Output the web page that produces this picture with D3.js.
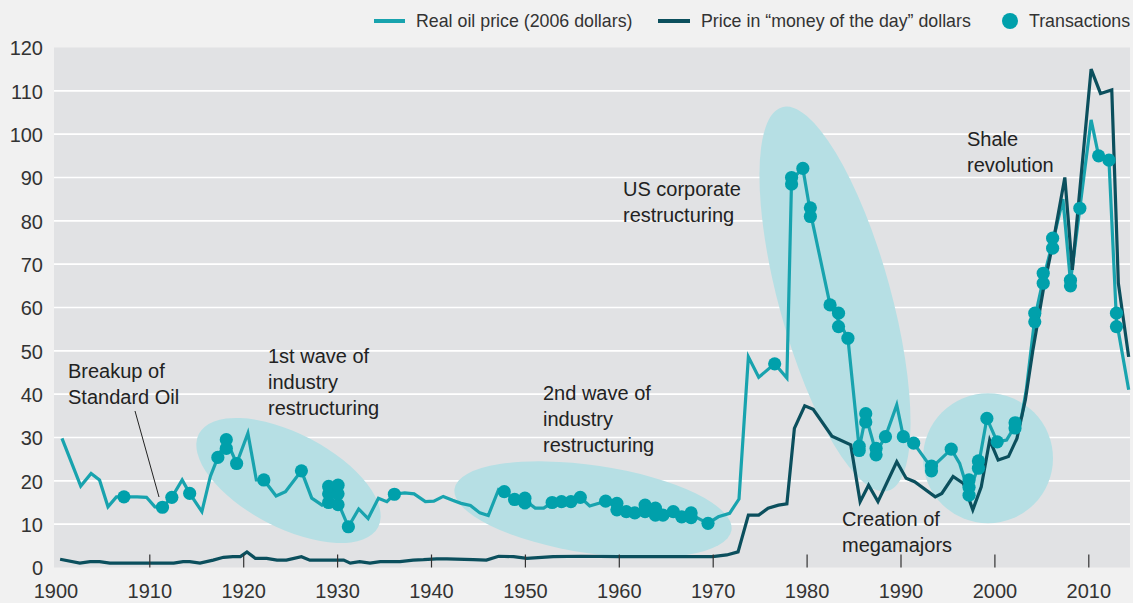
<!DOCTYPE html>
<html>
<head>
<meta charset="utf-8">
<script src="https://cdn.jsdelivr.net/npm/d3@7"></script>
<style>
  html, body { margin: 0; padding: 0; background: #f1f1f1; }
  svg { display: block; font-family: "Liberation Sans", Arial, sans-serif; }
</style>
</head>
<body>
<svg id="chart" width="1133" height="603"></svg>
<script>
// ---------------- DATA ----------------
const xTickYears = [1900, 1910, 1920, 1930, 1940, 1950, 1960, 1970, 1980, 1990, 2000, 2010];
const yTickValues = [0, 10, 20, 30, 40, 50, 60, 70, 80, 90, 100, 110, 120];

// Real oil price (2006 dollars)
const realYears = [1900.7,1902.7,1903.8,1904.7,1905.6,1906.5,1907.3,1908.7,1909.7,1910.6,1911.4,1912.4,1913.5,1914.3,1915.6,1916.5,1917.3,1918.2,1919.3,1920.5,1921.4,1922.2,1923.5,1924.5,1926.2,1927.3,1928.4,1929.1,1930.1,1931.2,1932.3,1933.3,1934.4,1935.3,1936.1,1937.2,1938.2,1939.4,1940.3,1941.3,1942.3,1943.2,1944.2,1945.2,1946.1,1947.2,1947.8,1948.9,1950.0,1951.1,1952.0,1952.9,1953.9,1954.9,1955.9,1956.9,1958.6,1959.8,1960.8,1961.7,1962.8,1963.9,1964.7,1965.8,1966.7,1967.7,1969.5,1970.6,1971.8,1972.8,1973.8,1974.9,1976.6,1977.9,1978.4,1979.6,1980.4,1982.5,1983.4,1984.4,1985.6,1986.3,1987.4,1988.4,1989.6,1990.3,1991.4,1993.3,1995.4,1996.3,1997.3,1998.3,1999.2,2000.3,2001.3,2002.2,2002.9,2003.4,2004.3,2005.2,2006.2,2007.3,2008.1,2009.1,2010.3,2011.1,2012.2,2013.0,2014.3];
const realValues = [29.8,18.8,21.7,20.2,14.0,16.3,16.3,16.3,16.2,14.0,13.9,16.2,20.2,17.1,12.9,21.0,25.4,29.5,24.0,31.0,20.2,20.2,16.5,17.5,22.3,16.0,14.4,15.0,15.0,9.4,13.5,11.3,16.0,15.2,16.9,17.2,17.0,15.2,15.3,16.4,15.5,14.8,14.3,12.6,12.0,18.0,17.5,15.7,15.5,13.7,13.7,15.0,15.2,15.2,16.2,14.2,15.3,14.0,12.9,12.6,13.8,12.8,12.3,12.9,11.7,12.2,10.2,11.7,12.5,15.8,48.6,43.9,47.0,43.7,89.5,92.1,82.0,60.6,57.0,52.9,27.5,35.0,26.5,30.2,37.5,30.2,28.7,23.0,27.3,24.0,17.0,23.5,34.4,29.0,29.4,32.7,34.8,41.0,57.5,66.5,75.0,85.0,66.0,82.9,103.3,95.0,94.0,57.0,41.0];

// Price in "money of the day" dollars
const nominalYears = [1900.5,1902.6,1903.7,1904.7,1905.8,1912.6,1913.6,1914.3,1915.4,1916.8,1917.9,1918.9,1919.7,1920.4,1921.3,1922.5,1923.6,1924.6,1926.2,1927.1,1928.5,1929.6,1930.7,1931.4,1932.4,1933.5,1934.6,1936.7,1938.1,1939.2,1940.6,1941.7,1944.5,1945.9,1947.2,1948.8,1950.2,1953.0,1956.0,1960.0,1965.0,1970.0,1971.5,1972.7,1973.8,1974.9,1975.9,1977.0,1977.9,1978.7,1979.8,1980.7,1982.7,1984.7,1985.7,1986.6,1987.6,1989.6,1990.6,1991.5,1993.7,1994.4,1995.6,1996.7,1997.7,1998.6,1999.5,2000.4,2001.5,2002.4,2003.3,2004.1,2005.2,2006.3,2007.5,2008.3,2010.3,2011.3,2012.5,2013.2,2014.3];
const nominalValues = [1.9,1.0,1.35,1.35,1.0,1.0,1.35,1.35,1.0,1.7,2.35,2.5,2.5,3.6,2.1,2.1,1.7,1.7,2.5,1.7,1.7,1.7,1.7,1.0,1.35,1.0,1.35,1.35,1.7,1.8,2.0,2.0,1.8,1.7,2.6,2.5,2.1,2.5,2.6,2.5,2.5,2.5,2.9,3.6,12.1,12.1,13.7,14.4,14.7,32.1,37.3,36.5,30.3,28.3,15.2,19.0,15.2,24.4,20.6,19.8,16.3,17.1,21.0,19.4,13.3,18.6,29.4,24.8,25.6,29.8,38.7,50.2,64.0,75.6,90.0,68.7,115.0,109.4,110.2,65.6,48.6];

// Transactions
const txYears = [1907.3,1911.4,1912.4,1914.3,1917.3,1918.2,1918.2,1919.3,1922.2,1926.2,1929.1,1929.1,1929.1,1930.1,1930.1,1930.1,1931.2,1936.1,1947.8,1948.9,1950.0,1950.0,1952.9,1953.9,1954.9,1955.9,1958.6,1959.8,1959.8,1960.8,1961.7,1962.8,1962.8,1963.9,1963.9,1964.7,1965.8,1966.7,1967.7,1967.7,1969.5,1976.6,1978.4,1978.4,1979.6,1980.4,1980.4,1982.5,1983.4,1983.4,1984.4,1985.6,1985.6,1986.3,1986.3,1987.4,1987.4,1988.4,1990.3,1991.4,1993.3,1993.3,1995.4,1997.3,1997.3,1997.3,1998.3,1998.3,1999.2,2000.3,2002.2,2002.2,2004.3,2004.3,2005.2,2005.2,2006.2,2006.2,2008.1,2008.1,2009.1,2011.1,2012.2,2013.0,2013.0];
const txValues = [16.3,13.9,16.2,17.1,25.4,27.5,29.5,24.0,20.2,22.3,15.0,17.0,18.7,14.5,17.0,19.0,9.4,16.9,17.5,15.7,16.0,14.9,15.0,15.2,15.2,16.2,15.3,14.8,13.3,12.9,12.6,14.4,12.9,13.7,12.1,12.1,12.9,11.7,12.6,11.5,10.2,47.0,90.0,88.5,92.1,83.0,81.0,60.6,58.7,55.6,52.9,28.0,27.0,35.5,33.6,27.5,26.0,30.2,30.2,28.7,23.4,22.3,27.3,20.2,18.5,16.7,24.6,22.9,34.4,29.0,32.2,33.4,58.7,56.7,67.9,65.6,76.0,73.7,66.3,65.0,82.9,95.0,94.0,58.7,55.6];

// Annotation texts
const annotations = [
  { lines: ["Breakup of", "Standard Oil"], x: 68, y: 378 },
  { lines: ["1st wave of", "industry", "restructuring"], x: 268, y: 363 },
  { lines: ["2nd wave of", "industry", "restructuring"], x: 543, y: 400 },
  { lines: ["US corporate", "restructuring"], x: 623, y: 196 },
  { lines: ["Shale", "revolution"], x: 967, y: 146 },
  { lines: ["Creation of", "megamajors"], x: 842, y: 526 }
];
const legendLabels = ["Real oil price (2006 dollars)", "Price in \u201cmoney of the day\u201d dollars", "Transactions"];

// ---------------- STYLE ----------------
const C_REAL = "#18a3ae", C_NOM = "#0b4f5d", C_TX = "#00a0ab", C_ELL = "#b6dfe4";
const plot = { left: 54, right: 1130, top: 47.5, bottom: 567.5 };

const svg = d3.select("#chart");
svg.append("rect").attr("width", 1133).attr("height", 603).attr("fill", "#f1f1f1");

const x = d3.scaleLinear().domain([1910, 2010]).range([149.3, 1088.3]);
const y = d3.scaleLinear().domain([0, 120]).range([plot.bottom, plot.top]);

svg.append("rect")
  .attr("x", plot.left).attr("y", plot.top)
  .attr("width", plot.right - plot.left).attr("height", plot.bottom - plot.top)
  .attr("fill", "#e1e2e4");

// gridlines
svg.append("g").selectAll("line")
  .data(yTickValues.filter(v => v > 0 && v < 120))
  .join("line")
  .attr("x1", plot.left).attr("x2", plot.right)
  .attr("y1", d => y(d)).attr("y2", d => y(d))
  .attr("stroke", "#ffffff").attr("stroke-width", 1.6);

// y labels
const yAxis = d3.axisLeft(y).tickValues(yTickValues).tickSize(0).tickPadding(0);
const gy = svg.append("g").attr("transform", "translate(43,0)").call(yAxis);
gy.select(".domain").remove();
gy.selectAll("text").attr("font-size", 20).attr("fill", "#333").attr("font-family", "Liberation Sans, Arial, sans-serif").attr("dy", "0.36em");

// highlight ellipses
const ellipses = [
  { cx: 288.5, cy: 480.5, rx: 101, ry: 47, rot: 27.5 },
  { cx: 593, cy: 509.5, rx: 140, ry: 44, rot: 8.5 },
  { cx: 835, cy: 299, rx: 199, ry: 56, rot: 74.6 },
  { cx: 988, cy: 458.3, rx: 65, ry: 65, rot: 0 }
];
svg.append("g").selectAll("ellipse").data(ellipses).join("ellipse")
  .attr("cx", 0).attr("cy", 0).attr("rx", d => d.rx).attr("ry", d => d.ry)
  .attr("transform", d => `translate(${d.cx},${d.cy}) rotate(${d.rot})`)
  .attr("fill", C_ELL);

// lines
const realData = realYears.map((t, i) => [t, realValues[i]]);
const nomData = nominalYears.map((t, i) => [t, nominalValues[i]]);
const line = d3.line().x(d => x(d[0])).y(d => y(d[1]));

svg.append("path").datum(realData).attr("d", line)
  .attr("fill", "none").attr("stroke", C_REAL).attr("stroke-width", 3.2).attr("stroke-linejoin", "miter");
svg.append("path").datum(nomData).attr("d", line)
  .attr("fill", "none").attr("stroke", C_NOM).attr("stroke-width", 3.2).attr("stroke-linejoin", "miter");

// x axis ticks (inside plot, bottom)
const xAxis = d3.axisTop(x).tickValues(xTickYears.filter(t => t > 1900)).tickSize(13).tickFormat("");
const gx = svg.append("g").attr("transform", `translate(0,${plot.bottom})`).call(xAxis);
gx.select(".domain").remove();
gx.selectAll("line").attr("stroke", "#333").attr("stroke-width", 1.2);

const xLab = d3.axisBottom(x).tickValues(xTickYears).tickSize(0).tickPadding(0).tickFormat(d3.format("d"));
const gxl = svg.append("g").attr("transform", "translate(0,580)").call(xLab);
gxl.select(".domain").remove();
gxl.selectAll("text").attr("font-size", 20).attr("fill", "#333").attr("font-family", "Liberation Sans, Arial, sans-serif").attr("dy", "0.9em");

// transactions
const txData = txYears.map((t, i) => [t, txValues[i]]);
svg.append("g").selectAll("circle").data(txData).join("circle")
  .attr("cx", d => x(d[0])).attr("cy", d => y(d[1])).attr("r", 6.6)
  .attr("fill", C_TX);

// annotations
const ann = svg.append("g").attr("font-size", 20).attr("fill", "#222");
annotations.forEach(a => {
  const t = ann.append("text").attr("x", a.x).attr("y", a.y);
  a.lines.forEach((l, i) => t.append("tspan").attr("x", a.x).attr("dy", i === 0 ? 0 : 25.8).text(l));
});
// leader line for Standard Oil
svg.append("line").attr("x1", 135).attr("y1", 411).attr("x2", 159).attr("y2", 497)
  .attr("stroke", "#222").attr("stroke-width", 1);

// legend
const lg = svg.append("g").attr("font-size", 17.8).attr("fill", "#333");
lg.append("line").attr("x1", 374).attr("x2", 405).attr("y1", 21).attr("y2", 21).attr("stroke", C_REAL).attr("stroke-width", 4);
lg.append("text").attr("x", 416).attr("y", 21).attr("dy", "0.35em").text(legendLabels[0]);
lg.append("line").attr("x1", 658).attr("x2", 690).attr("y1", 21).attr("y2", 21).attr("stroke", C_NOM).attr("stroke-width", 4);
lg.append("text").attr("x", 701).attr("y", 21).attr("dy", "0.35em").text(legendLabels[1]);
lg.append("circle").attr("cx", 1010).attr("cy", 21).attr("r", 8).attr("fill", C_TX);
lg.append("text").attr("x", 1029).attr("y", 21).attr("dy", "0.35em").text(legendLabels[2]);
</script>
</body>
</html>
